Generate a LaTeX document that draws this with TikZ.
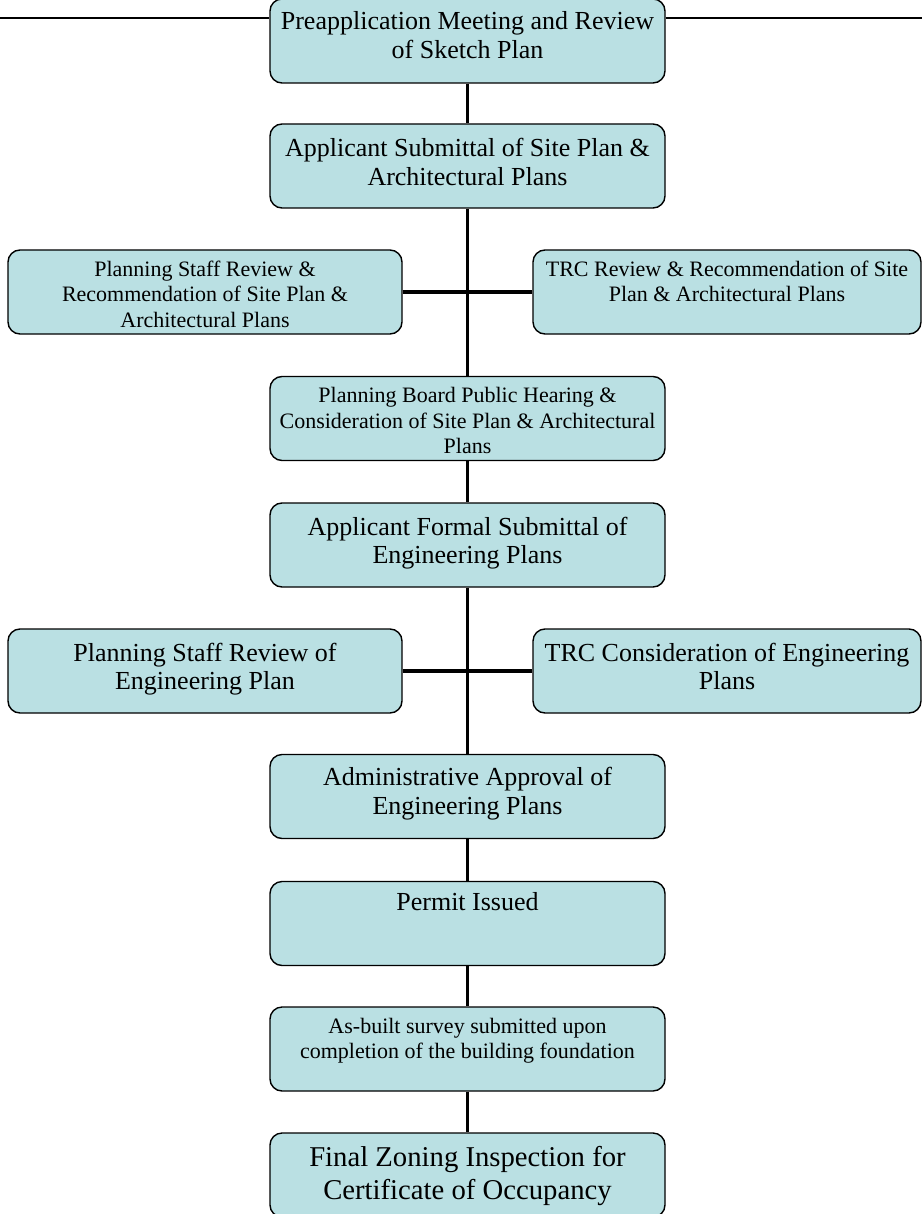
\documentclass[tikz,border=0pt]{standalone}
\usepackage{fontspec}
\setmainfont{Liberation Serif}
\definecolor{boxfill}{RGB}{186,224,227}
% #1 box height, #2 text width, #3 first baseline below top, #4 lines
\newcommand\boxlines[4]{\parbox[c][#1][t]{#2}{\centering\rule{0pt}{#3}#4\par}}
\tikzset{
  stage/.style={draw=black, line width=1.4pt, fill=boxfill, rounded corners=12pt,
                inner sep=0pt, minimum height=84pt},
  bigtext/.style={font=\fontsize{26}{28.5}\selectfont},
  smalltext/.style={font=\fontsize{22}{25.5}\selectfont},
  hugetext/.style={font=\fontsize{28.7}{33}\selectfont},
  vlink/.style={draw=black, line width=3.4pt},
  hlink/.style={draw=black, line width=4pt},
  rail/.style={draw=black, line width=1.8pt},
}
\begin{document}
\begin{tikzpicture}[x=1pt, y=-1pt]
\useasboundingbox (0,0) rectangle (922,1214);

% main column
\node[stage, bigtext, minimum width=395pt] (b1) at (467.5,41)
  {\boxlines{84pt}{385pt}{31pt}{Preapplication Meeting and Review\\of Sketch Plan}};
\node[stage, bigtext, minimum width=395pt] (b2) at (467.5,166)
  {\boxlines{84pt}{385pt}{33pt}{Applicant Submittal of Site Plan \&\\Architectural Plans}};
\node[stage, smalltext, minimum width=394pt] (l1) at (205,292)
  {\boxlines{84pt}{385pt}{26pt}{Planning Staff Review \&\\Recommendation of Site Plan \&\\Architectural Plans}};
\node[stage, smalltext, minimum width=388pt] (r1) at (727,292)
  {\boxlines{84pt}{380pt}{26pt}{TRC Review \& Recommendation of Site\\Plan \& Architectural Plans}};
\node[stage, smalltext, minimum width=395pt] (b3) at (467.5,418.5)
  {\boxlines{84pt}{390pt}{26pt}{Planning Board Public Hearing \&\\Consideration of Site Plan \& Architectural\\Plans}};
\node[stage, bigtext, minimum width=395pt] (b4) at (467.5,545)
  {\boxlines{84pt}{385pt}{32pt}{Applicant Formal Submittal of\\Engineering Plans}};
\node[stage, bigtext, minimum width=394pt] (l2) at (205,671)
  {\boxlines{84pt}{385pt}{32pt}{Planning Staff Review of\\Engineering Plan}};
\node[stage, bigtext, minimum width=388pt] (r2) at (727,671)
  {\boxlines{84pt}{380pt}{32pt}{TRC Consideration of Engineering\\Plans}};
\node[stage, bigtext, minimum width=395pt] (b5) at (467.5,796.5)
  {\boxlines{84pt}{385pt}{31pt}{Administrative Approval of\\Engineering Plans}};
\node[stage, bigtext, minimum width=395pt] (b6) at (467.5,923.5)
  {\boxlines{84pt}{385pt}{29pt}{Permit Issued}};
\node[stage, smalltext, minimum width=395pt] (b7) at (467.5,1049)
  {\boxlines{84pt}{385pt}{26pt}{As-built survey submitted upon\\completion of the building foundation}};
\node[stage, hugetext, minimum width=395pt] (b8) at (467.5,1175)
  {\boxlines{84pt}{385pt}{33pt}{Final Zoning Inspection for\\Certificate of Occupancy}};

% rail running along the top edge
\coordinate (railL) at (0,18);
\coordinate (railR) at (922,18);
\draw[rail] (railL) -- (b1.west |- railL);
\draw[rail] (b1.east |- railR) -- (railR);

% vertical spine
\draw[vlink] (b1.south) -- (b2.north);
\draw[vlink] (b2.south) -- (b3.north);
\draw[vlink] (b3.south) -- (b4.north);
\draw[vlink] (b4.south) -- (b5.north);
\draw[vlink] (b5.south) -- (b6.north);
\draw[vlink] (b6.south) -- (b7.north);
\draw[vlink] (b7.south) -- (b8.north);

% side branches
\draw[hlink] (l1.east) -- (r1.west);
\draw[hlink] (l2.east) -- (r2.west);
\end{tikzpicture}
\end{document}
